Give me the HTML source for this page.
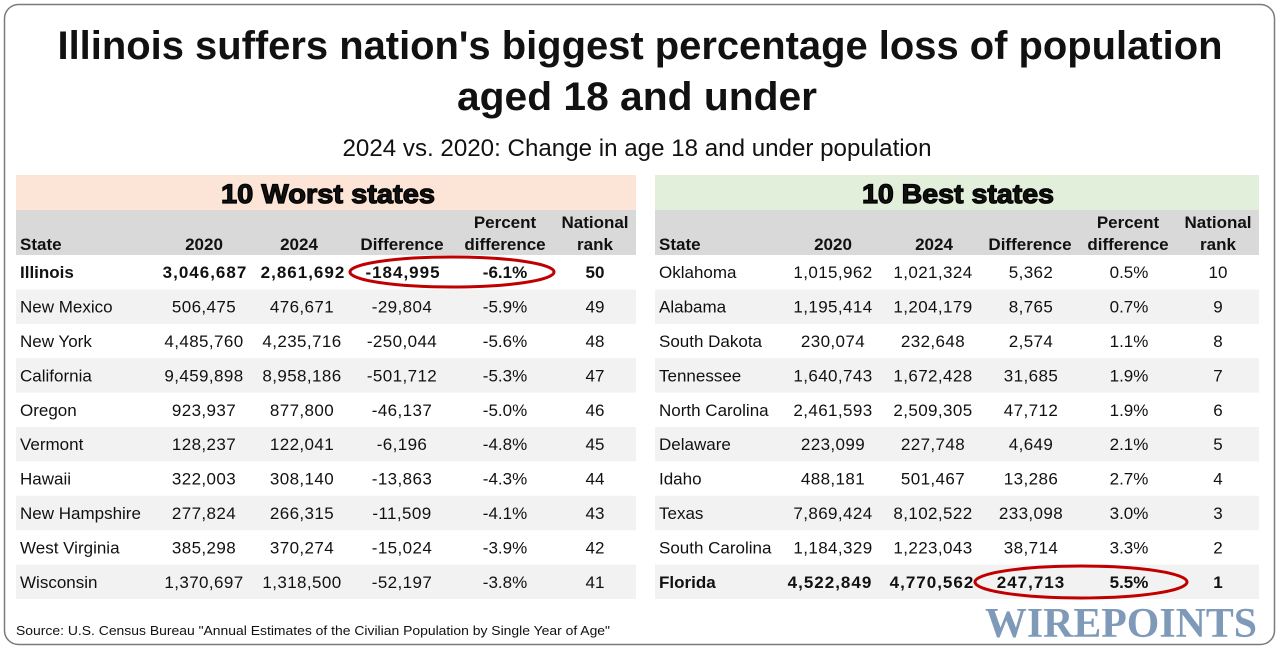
<!DOCTYPE html>
<html>
<head>
<meta charset="utf-8">
<style>
html,body{margin:0;padding:0;background:#fff;}
svg{display:block;}
text{font-family:"Liberation Sans",Arial,sans-serif;fill:#111;}
.t{font-size:17px;}
.n{font-size:17px;letter-spacing:0.4px;}
.d{font-size:17px;letter-spacing:0.4px;}
.b{font-weight:bold;}
.nb{letter-spacing:1px;}
.h{font-size:17px;font-weight:bold;}
</style>
</head>
<body>
<svg width="1280" height="652" viewBox="0 0 1280 652" xmlns="http://www.w3.org/2000/svg">
<rect x="4.5" y="4.5" width="1270" height="640" rx="14" ry="14" fill="#fff" stroke="#7a7a7a" stroke-width="1.5"/>

<text x="640" y="59" text-anchor="middle" font-size="40" font-weight="bold" textLength="1165" lengthAdjust="spacingAndGlyphs">Illinois suffers nation's biggest percentage loss of population</text>
<text x="637" y="110" text-anchor="middle" font-size="40" font-weight="bold" textLength="360" lengthAdjust="spacingAndGlyphs">aged 18 and under</text>
<text x="637" y="156" text-anchor="middle" font-size="24" textLength="589" lengthAdjust="spacingAndGlyphs">2024 vs. 2020: Change in age 18 and under population</text>

<!-- Left panel -->
<rect x="16" y="175" width="620" height="35" fill="#fce4d6"/>
<rect x="16" y="210" width="620" height="45" fill="#d9d9d9"/>
<text x="328" y="203" text-anchor="middle" font-size="27" font-weight="bold" stroke="#000" stroke-width="1.2" textLength="214" lengthAdjust="spacingAndGlyphs">10 Worst states</text>
<g>
<rect x="16" y="289.4" width="620" height="34.4" fill="#f2f2f2"/>
<rect x="16" y="358.2" width="620" height="34.4" fill="#f2f2f2"/>
<rect x="16" y="427" width="620" height="34.4" fill="#f2f2f2"/>
<rect x="16" y="495.8" width="620" height="34.4" fill="#f2f2f2"/>
<rect x="16" y="564.6" width="620" height="34.4" fill="#f2f2f2"/>
</g>
<text class="h" x="20" y="250">State</text>
<text class="h" x="204" y="250" text-anchor="middle">2020</text>
<text class="h" x="299" y="250" text-anchor="middle">2024</text>
<text class="h" x="402" y="250" text-anchor="middle">Difference</text>
<text class="h" x="505" y="228" text-anchor="middle">Percent</text>
<text class="h" x="505" y="250" text-anchor="middle">difference</text>
<text class="h" x="595" y="228" text-anchor="middle">National</text>
<text class="h" x="595" y="250" text-anchor="middle">rank</text>

<!-- Left rows -->
<text class="t b" x="20" y="278">Illinois</text>
<text class="t b nb" x="205" y="278" text-anchor="middle">3,046,687</text>
<text class="t b nb" x="303" y="278" text-anchor="middle">2,861,692</text>
<text class="t b nb" x="403" y="278" text-anchor="middle">-184,995</text>
<text class="t b" x="505" y="278" text-anchor="middle">-6.1%</text>
<text class="t b" x="595" y="278" text-anchor="middle">50</text>

<text class="t" x="20" y="312.4">New Mexico</text>
<text class="n" x="204" y="312.4" text-anchor="middle">506,475</text>
<text class="n" x="302" y="312.4" text-anchor="middle">476,671</text>
<text class="d" x="402" y="312.4" text-anchor="middle">-29,804</text>
<text class="t" x="505" y="312.4" text-anchor="middle">-5.9%</text>
<text class="t" x="595" y="312.4" text-anchor="middle">49</text>

<text class="t" x="20" y="346.9">New York</text>
<text class="n" x="204" y="346.9" text-anchor="middle">4,485,760</text>
<text class="n" x="302" y="346.9" text-anchor="middle">4,235,716</text>
<text class="d" x="402" y="346.9" text-anchor="middle">-250,044</text>
<text class="t" x="505" y="346.9" text-anchor="middle">-5.6%</text>
<text class="t" x="595" y="346.9" text-anchor="middle">48</text>

<text class="t" x="20" y="381.3">California</text>
<text class="n" x="204" y="381.3" text-anchor="middle">9,459,898</text>
<text class="n" x="302" y="381.3" text-anchor="middle">8,958,186</text>
<text class="d" x="402" y="381.3" text-anchor="middle">-501,712</text>
<text class="t" x="505" y="381.3" text-anchor="middle">-5.3%</text>
<text class="t" x="595" y="381.3" text-anchor="middle">47</text>

<text class="t" x="20" y="415.8">Oregon</text>
<text class="n" x="204" y="415.8" text-anchor="middle">923,937</text>
<text class="n" x="302" y="415.8" text-anchor="middle">877,800</text>
<text class="d" x="402" y="415.8" text-anchor="middle">-46,137</text>
<text class="t" x="505" y="415.8" text-anchor="middle">-5.0%</text>
<text class="t" x="595" y="415.8" text-anchor="middle">46</text>

<text class="t" x="20" y="450.2">Vermont</text>
<text class="n" x="204" y="450.2" text-anchor="middle">128,237</text>
<text class="n" x="302" y="450.2" text-anchor="middle">122,041</text>
<text class="d" x="402" y="450.2" text-anchor="middle">-6,196</text>
<text class="t" x="505" y="450.2" text-anchor="middle">-4.8%</text>
<text class="t" x="595" y="450.2" text-anchor="middle">45</text>

<text class="t" x="20" y="484.6">Hawaii</text>
<text class="n" x="204" y="484.6" text-anchor="middle">322,003</text>
<text class="n" x="302" y="484.6" text-anchor="middle">308,140</text>
<text class="d" x="402" y="484.6" text-anchor="middle">-13,863</text>
<text class="t" x="505" y="484.6" text-anchor="middle">-4.3%</text>
<text class="t" x="595" y="484.6" text-anchor="middle">44</text>

<text class="t" x="20" y="519.1">New Hampshire</text>
<text class="n" x="204" y="519.1" text-anchor="middle">277,824</text>
<text class="n" x="302" y="519.1" text-anchor="middle">266,315</text>
<text class="d" x="402" y="519.1" text-anchor="middle">-11,509</text>
<text class="t" x="505" y="519.1" text-anchor="middle">-4.1%</text>
<text class="t" x="595" y="519.1" text-anchor="middle">43</text>

<text class="t" x="20" y="553.5">West Virginia</text>
<text class="n" x="204" y="553.5" text-anchor="middle">385,298</text>
<text class="n" x="302" y="553.5" text-anchor="middle">370,274</text>
<text class="d" x="402" y="553.5" text-anchor="middle">-15,024</text>
<text class="t" x="505" y="553.5" text-anchor="middle">-3.9%</text>
<text class="t" x="595" y="553.5" text-anchor="middle">42</text>

<text class="t" x="20" y="588">Wisconsin</text>
<text class="n" x="204" y="588" text-anchor="middle">1,370,697</text>
<text class="n" x="302" y="588" text-anchor="middle">1,318,500</text>
<text class="d" x="402" y="588" text-anchor="middle">-52,197</text>
<text class="t" x="505" y="588" text-anchor="middle">-3.8%</text>
<text class="t" x="595" y="588" text-anchor="middle">41</text>

<!-- Right panel -->
<rect x="655" y="175" width="604" height="35" fill="#e2efda"/>
<rect x="655" y="210" width="604" height="45" fill="#d9d9d9"/>
<text x="958" y="203" text-anchor="middle" font-size="27" font-weight="bold" stroke="#000" stroke-width="1.2" textLength="192" lengthAdjust="spacingAndGlyphs">10 Best states</text>
<g>
<rect x="655" y="289.4" width="604" height="34.4" fill="#f2f2f2"/>
<rect x="655" y="358.2" width="604" height="34.4" fill="#f2f2f2"/>
<rect x="655" y="427" width="604" height="34.4" fill="#f2f2f2"/>
<rect x="655" y="495.8" width="604" height="34.4" fill="#f2f2f2"/>
<rect x="655" y="564.6" width="604" height="34.4" fill="#f2f2f2"/>
</g>
<text class="h" x="659" y="250">State</text>
<text class="h" x="833" y="250" text-anchor="middle">2020</text>
<text class="h" x="934" y="250" text-anchor="middle">2024</text>
<text class="h" x="1030" y="250" text-anchor="middle">Difference</text>
<text class="h" x="1128" y="228" text-anchor="middle">Percent</text>
<text class="h" x="1128" y="250" text-anchor="middle">difference</text>
<text class="h" x="1218" y="228" text-anchor="middle">National</text>
<text class="h" x="1218" y="250" text-anchor="middle">rank</text>

<text class="t" x="659" y="278">Oklahoma</text>
<text class="n" x="833" y="278" text-anchor="middle">1,015,962</text>
<text class="n" x="933" y="278" text-anchor="middle">1,021,324</text>
<text class="d" x="1031" y="278" text-anchor="middle">5,362</text>
<text class="t" x="1129" y="278" text-anchor="middle">0.5%</text>
<text class="t" x="1218" y="278" text-anchor="middle">10</text>

<text class="t" x="659" y="312.4">Alabama</text>
<text class="n" x="833" y="312.4" text-anchor="middle">1,195,414</text>
<text class="n" x="933" y="312.4" text-anchor="middle">1,204,179</text>
<text class="d" x="1031" y="312.4" text-anchor="middle">8,765</text>
<text class="t" x="1129" y="312.4" text-anchor="middle">0.7%</text>
<text class="t" x="1218" y="312.4" text-anchor="middle">9</text>

<text class="t" x="659" y="346.9">South Dakota</text>
<text class="n" x="833" y="346.9" text-anchor="middle">230,074</text>
<text class="n" x="933" y="346.9" text-anchor="middle">232,648</text>
<text class="d" x="1031" y="346.9" text-anchor="middle">2,574</text>
<text class="t" x="1129" y="346.9" text-anchor="middle">1.1%</text>
<text class="t" x="1218" y="346.9" text-anchor="middle">8</text>

<text class="t" x="659" y="381.3">Tennessee</text>
<text class="n" x="833" y="381.3" text-anchor="middle">1,640,743</text>
<text class="n" x="933" y="381.3" text-anchor="middle">1,672,428</text>
<text class="d" x="1031" y="381.3" text-anchor="middle">31,685</text>
<text class="t" x="1129" y="381.3" text-anchor="middle">1.9%</text>
<text class="t" x="1218" y="381.3" text-anchor="middle">7</text>

<text class="t" x="659" y="415.8">North Carolina</text>
<text class="n" x="833" y="415.8" text-anchor="middle">2,461,593</text>
<text class="n" x="933" y="415.8" text-anchor="middle">2,509,305</text>
<text class="d" x="1031" y="415.8" text-anchor="middle">47,712</text>
<text class="t" x="1129" y="415.8" text-anchor="middle">1.9%</text>
<text class="t" x="1218" y="415.8" text-anchor="middle">6</text>

<text class="t" x="659" y="450.2">Delaware</text>
<text class="n" x="833" y="450.2" text-anchor="middle">223,099</text>
<text class="n" x="933" y="450.2" text-anchor="middle">227,748</text>
<text class="d" x="1031" y="450.2" text-anchor="middle">4,649</text>
<text class="t" x="1129" y="450.2" text-anchor="middle">2.1%</text>
<text class="t" x="1218" y="450.2" text-anchor="middle">5</text>

<text class="t" x="659" y="484.6">Idaho</text>
<text class="n" x="833" y="484.6" text-anchor="middle">488,181</text>
<text class="n" x="933" y="484.6" text-anchor="middle">501,467</text>
<text class="d" x="1031" y="484.6" text-anchor="middle">13,286</text>
<text class="t" x="1129" y="484.6" text-anchor="middle">2.7%</text>
<text class="t" x="1218" y="484.6" text-anchor="middle">4</text>

<text class="t" x="659" y="519.1">Texas</text>
<text class="n" x="833" y="519.1" text-anchor="middle">7,869,424</text>
<text class="n" x="933" y="519.1" text-anchor="middle">8,102,522</text>
<text class="d" x="1031" y="519.1" text-anchor="middle">233,098</text>
<text class="t" x="1129" y="519.1" text-anchor="middle">3.0%</text>
<text class="t" x="1218" y="519.1" text-anchor="middle">3</text>

<text class="t" x="659" y="553.5">South Carolina</text>
<text class="n" x="833" y="553.5" text-anchor="middle">1,184,329</text>
<text class="n" x="933" y="553.5" text-anchor="middle">1,223,043</text>
<text class="d" x="1031" y="553.5" text-anchor="middle">38,714</text>
<text class="t" x="1129" y="553.5" text-anchor="middle">3.3%</text>
<text class="t" x="1218" y="553.5" text-anchor="middle">2</text>

<text class="t b" x="659" y="588">Florida</text>
<text class="t b nb" x="830" y="588" text-anchor="middle">4,522,849</text>
<text class="t b nb" x="932" y="588" text-anchor="middle">4,770,562</text>
<text class="t b nb" x="1031" y="588" text-anchor="middle">247,713</text>
<text class="t b" x="1129" y="588" text-anchor="middle">5.5%</text>
<text class="t b" x="1218" y="588" text-anchor="middle">1</text>

<!-- Ellipses -->
<ellipse cx="452" cy="272" rx="102" ry="15" fill="none" stroke="#c00000" stroke-width="3"/>
<ellipse cx="1081" cy="582" rx="106" ry="16" fill="none" stroke="#c00000" stroke-width="3"/>

<!-- Source -->
<text x="16" y="635" font-size="13" textLength="594" lengthAdjust="spacingAndGlyphs">Source: U.S. Census Bureau "Annual Estimates of the Civilian Population by Single Year of Age"</text>

<!-- Logo -->
<text x="985" y="637" font-size="42" font-weight="bold" textLength="272" lengthAdjust="spacingAndGlyphs" style="font-family:'Liberation Serif','DejaVu Serif',serif;fill:#7f99b9;">WIREPOINTS</text>
</svg>
</body>
</html>
